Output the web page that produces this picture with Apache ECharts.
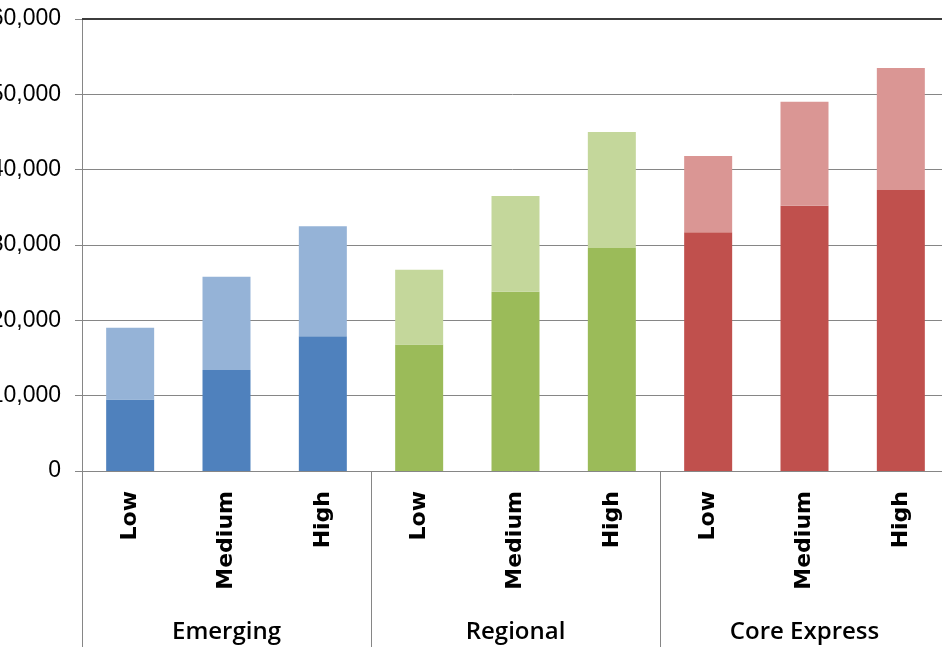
<!DOCTYPE html>
<html>
<head>
<meta charset="utf-8">
<script src="https://cdn.jsdelivr.net/npm/echarts@6/dist/echarts.min.js"></script>
<style>
html,body{margin:0;padding:0;background:#fff;}
#main{width:942px;height:647px;}
</style>
</head>
<body>
<div id="main"></div>
<script>
// 数据
var categories = ['Low', 'Medium', 'High', 'Low', 'Medium', 'High', 'Low', 'Medium', 'High'];
var groups = ['Emerging', 'Regional', 'Core Express'];
var baseValues = [9500, 13400, 17900, 16800, 23800, 29600, 31700, 35200, 37300];
var upperValues = [9500, 12400, 14600, 9900, 12700, 15400, 10100, 13800, 16200];
var yTicks = [0, 10000, 20000, 30000, 40000, 50000, 60000];

var darkColors = ['#4F81BD', '#9BBB59', '#C0504D'];
var lightColors = ['#95B3D7', '#C4D79B', '#DA9694'];

var myChart = echarts.init(document.getElementById('main'));

function groupColor(list) {
  return function (p) { return list[Math.floor(p.dataIndex / 3)]; };
}

myChart.setOption({
  animation: false,
  grid: {
    left: 82, right: -7, top: 19, bottom: 176,
    containLabel: false,
    outerBoundsMode: 'none'
  },
  xAxis: [{
    type: 'category',
    data: categories,
    axisLine: {lineStyle: {color: '#868686', width: 1}},
    axisTick: {show: false},
    axisLabel: {
      rotate: 90,
      margin: 20,
      color: '#000',
      fontFamily: 'DejaVu Sans',
      fontWeight: 'bold',
      fontSize: 22
    }
  }, {
    type: 'category',
    data: groups,
    position: 'bottom',
    axisLine: {show: false},
    axisTick: {show: true, length: 176, lineStyle: {color: '#868686'}},
    axisLabel: {
      margin: 149,
      color: '#000',
      fontFamily: 'Open Sans',
      fontWeight: 600,
      fontSize: 24
    }
  }],
  yAxis: {
    type: 'value',
    min: yTicks[0],
    max: yTicks[yTicks.length - 1],
    interval: 10000,
    axisLine: {show: true, lineStyle: {color: '#868686'}},
    axisTick: {show: true, length: 7, lineStyle: {color: '#868686'}},
    splitLine: {lineStyle: {color: '#868686', width: 1}},
    axisLabel: {
      margin: 21,
      color: '#000',
      fontFamily: 'Liberation Sans',
      fontSize: 23,
      formatter: function (v) { return v === 0 ? '0' : v.toLocaleString('en-US'); }
    }
  },
  series: [{
    name: 'base',
    type: 'bar',
    stack: 'total',
    barWidth: 48,
    data: baseValues,
    itemStyle: {color: groupColor(darkColors)},
    markLine: {
      silent: true,
      symbol: 'none',
      label: {show: false},
      lineStyle: {color: '#3c3c3c', width: 2, type: 'solid'},
      data: [{yAxis: yTicks[yTicks.length - 1]}]
    }
  }, {
    name: 'upper',
    type: 'bar',
    stack: 'total',
    barWidth: 48,
    data: upperValues,
    itemStyle: {color: groupColor(lightColors)}
  }]
});
</script>
</body>
</html>
